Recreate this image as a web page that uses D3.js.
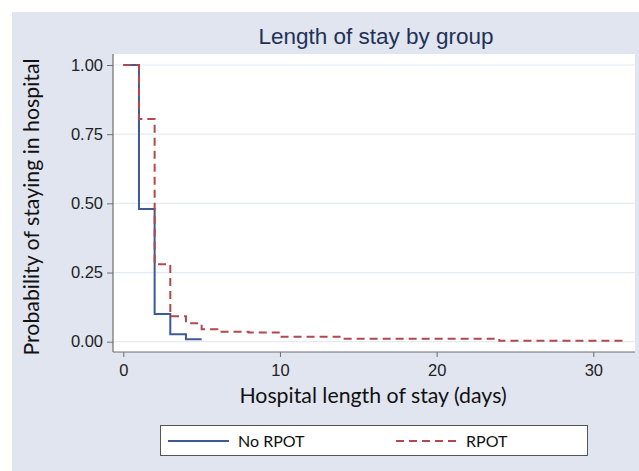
<!DOCTYPE html>
<meta charset="utf-8">
<head>
<style>
  body { margin: 0; background: #fff; }
  svg text { font-family: "Liberation Sans", Arial, sans-serif; }
  .cal { font-family: Lato, "Open Sans", sans-serif !important; }
</style>
</head>
<body>
<script src="https://cdn.jsdelivr.net/npm/d3@7/dist/d3.min.js"></script>
<svg id="chart"></svg>
<script>

// step points [day, probability]
var noRpotDays = [0, 1, 2, 3, 4, 5];
var noRpotProb = [1.00, 0.48, 0.10, 0.027, 0.009, 0.009];

var rpotDays = [0, 1, 2, 3, 4, 5, 6, 8, 10, 14, 24, 32];
var rpotProb = [1.00, 0.805, 0.28, 0.092, 0.067, 0.045, 0.036, 0.033, 0.018, 0.011, 0.003, 0.003];

var yTicks = [0, 0.25, 0.5, 0.75, 1];
var xTicks = [0, 10, 20, 30];
var seriesNames = ["No RPOT", "RPOT"];

var width = 639, height = 471;

var svg = d3.select("#chart")
  .attr("width", width)
  .attr("height", height);

// outer background
svg.append("rect")
  .attr("x", 12).attr("y", 12)
  .attr("width", width - 12).attr("height", height - 12)
  .attr("fill", "#e0e5f0");

var plot = {left: 113, right: 635, top: 54, bottom: 352};

svg.append("rect")
  .attr("x", plot.left).attr("y", plot.top)
  .attr("width", plot.right - plot.left).attr("height", plot.bottom - plot.top)
  .attr("fill", "#fff");

var x = d3.scaleLinear().domain([0, 30]).range([123.3, 593.3]);
var y = d3.scaleLinear().domain([0, 1]).range([341.7, 65]);

// grid
svg.append("g").selectAll("line")
  .data(yTicks)
  .enter().append("line")
  .attr("x1", plot.left).attr("x2", plot.right)
  .attr("y1", function(d){ return y(d); })
  .attr("y2", function(d){ return y(d); })
  .attr("stroke", "#e4eaf3")
  .attr("stroke-width", 1.2);

// axes
var yAxis = svg.append("g")
  .attr("transform", "translate(" + plot.left + ",0)")
  .call(d3.axisLeft(y).tickValues(yTicks).tickSize(6).tickPadding(4).tickFormat(d3.format(".2f")));
yAxis.select(".domain").attr("d", "M0," + plot.top + "V" + plot.bottom);

var xAxis = svg.append("g")
  .attr("transform", "translate(0," + plot.bottom + ")")
  .call(d3.axisBottom(x).tickValues(xTicks).tickSize(5).tickPadding(7));
xAxis.select(".domain").attr("d", "M" + plot.left + ",0H" + plot.right);

svg.selectAll(".domain").attr("stroke", "#6e6e6e").attr("stroke-width", 1.2);
svg.selectAll(".tick line").attr("stroke", "#6e6e6e");
svg.selectAll(".tick text")
  .attr("fill", "#222")
  .style("font-size", "16.5px")
  .style("font-family", "Liberation Sans, Arial, sans-serif");

// step lines
var line = d3.line()
  .x(function(d){ return x(d[0]); })
  .y(function(d){ return y(d[1]); })
  .curve(d3.curveStepAfter);

var colors = ["#3d5a96", "#b2474c"];

svg.append("path")
  .datum(d3.zip(noRpotDays, noRpotProb))
  .attr("d", line)
  .attr("fill", "none")
  .attr("stroke", colors[0])
  .attr("stroke-width", 2);

svg.append("path")
  .datum(d3.zip(rpotDays, rpotProb))
  .attr("d", line)
  .attr("fill", "none")
  .attr("stroke", colors[1])
  .attr("stroke-width", 2)
  .attr("stroke-dasharray", "8,5");

// titles
svg.append("text")
  .attr("x", 376).attr("y", 44)
  .attr("text-anchor", "middle")
  .attr("fill", "#1f3256")
  .style("font-size", "22.5px")
  .text("Length of stay by group");

svg.append("text")
  .attr("class", "cal")
  .attr("x", 373).attr("y", 403)
  .attr("text-anchor", "middle")
  .attr("fill", "#111")
  .style("font-size", "21.3px")
  .text("Hospital length of stay (days)");

svg.append("text")
  .attr("class", "cal")
  .attr("transform", "translate(39,207) rotate(-90)")
  .attr("text-anchor", "middle")
  .attr("fill", "#111")
  .style("font-size", "21.3px")
  .text("Probability of staying in hospital");

// legend
svg.append("rect")
  .attr("x", 160.5).attr("y", 425.5)
  .attr("width", 427).attr("height", 30)
  .attr("fill", "#fff")
  .attr("stroke", "#555")
  .attr("stroke-width", 1);

var legX = [168, 396];
var legItems = svg.append("g").selectAll("g")
  .data(seriesNames)
  .enter().append("g")
  .attr("transform", function(d, i){ return "translate(" + legX[i] + ",441)"; });

legItems.append("line")
  .attr("x1", 0).attr("x2", 61)
  .attr("stroke", function(d, i){ return colors[i]; })
  .attr("stroke-width", 2)
  .attr("stroke-dasharray", function(d, i){ return i ? "8,5" : null; });

legItems.append("text")
  .attr("class", "cal")
  .attr("x", 70).attr("y", 5.5)
  .attr("fill", "#111")
  .style("font-size", "16px")
  .text(function(d){ return d; });

</script>
</body>
